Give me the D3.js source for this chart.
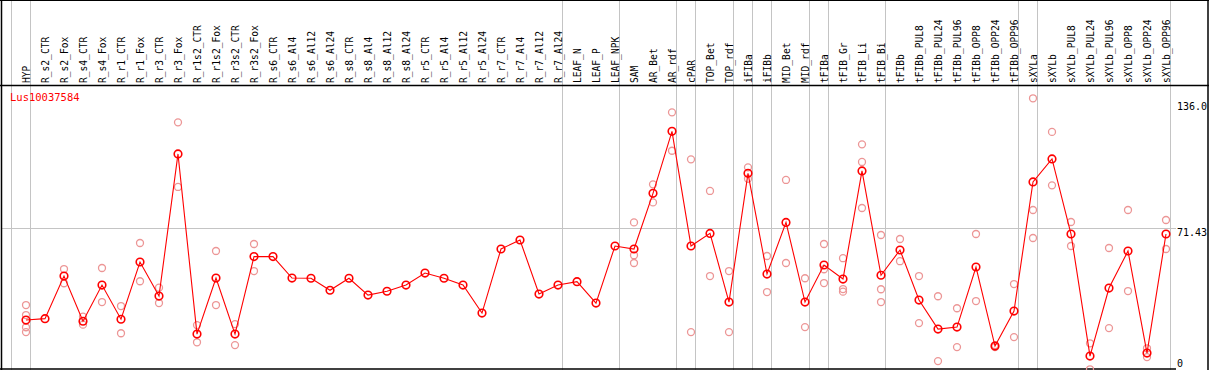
<!DOCTYPE html>
<html>
<head>
    <title>Lus10037584</title>
    <style>
        html, body {
            margin: 0;
            padding: 0;
            background: #fff;
        }
        #chart text {
            font-family: "DejaVu Sans Mono", monospace;
            font-size: 9.6px;
        }
    </style>
    <script src="https://d3js.org/d3.v7.min.js"></script>
</head>
<body>
    <svg id="chart"></svg>
</body>
<script>
const columns = ["HYP", "R_s2_CTR", "R_s2_Fox", "R_s4_CTR", "R_s4_Fox", "R_r1_CTR", "R_r1_Fox",
    "R_r3_CTR", "R_r3_Fox", "R_r1s2_CTR", "R_r1s2_Fox", "R_r3s2_CTR", "R_r3s2_Fox",
    "R_s6_CTR", "R_s6_Al4", "R_s6_Al12", "R_s6_Al24", "R_s8_CTR", "R_s8_Al4", "R_s8_Al12", "R_s8_Al24",
    "R_r5_CTR", "R_r5_Al4", "R_r5_Al12", "R_r5_Al24", "R_r7_CTR", "R_r7_Al4", "R_r7_Al12", "R_r7_Al24",
    "LEAF_N", "LEAF_P", "LEAF_NPK", "SAM", "AR_Bet", "AR_rdf", "cPAR", "TOP_Bet", "TOP_rdf",
    "iFIBa", "iFIBb", "MID_Bet", "MID_rdf", "tFIBa", "tFIB_Gr", "tFIB_Li", "tFIB_Bi", "tFIBb",
    "tFIBb_PUL8", "tFIBb_PUL24", "tFIBb_PUL96", "tFIBb_OPP8", "tFIBb_OPP24", "tFIBb_OPP96",
    "sXYLa", "sXYLb", "sXYLb_PUL8", "sXYLb_PUL24", "sXYLb_PUL96", "sXYLb_OPP8", "sXYLb_OPP24", "sXYLb_OPP96"];

const meanValues = [25.2, 25.9, 47.2, 24.6, 42.7, 25.6, 54.2,
    37.2, 108.2, 18.2, 46.2, 18.2, 56.9,
    56.9, 46.2, 46.1, 40.1, 46.1, 37.7, 39.6, 42.7,
    48.7, 46.1, 42.7, 28.7, 60.7, 65.2, 38.2, 42.7,
    44.4, 33.7, 62.2, 60.7, 88.5, 119.5, 62.2, 68.5, 34.2,
    98.5, 48.2, 74.0, 34.2, 52.7, 45.7, 99.7, 47.6, 60.2,
    35.2, 20.7, 21.7, 51.7, 12.2, 29.7,
    94.2, 105.7, 68.2, 7.2, 41.2, 59.7, 8.7, 68.2];

const replicates = [
    [32.7, 27.7, 21.6, 19.2], [], [50.7, 43.6], [26.9, 22.9], [51.2, 34.2], [32.2, 18.6], [63.7, 44.6],
    [41.4, 33.7], [124.0, 91.7], [22.7, 14.1], [59.7, 32.7], [23.2, 12.7], [63.2, 49.7],
    [], [], [], [], [], [], [], [],
    [], [], [], [], [], [], [], [],
    [], [], [], [74.0, 57.6, 53.7], [93.0, 84.0], [129.0, 109.8], [105.5, 19.2], [89.7, 47.2], [49.7, 19.2],
    [101.5, 95.8], [57.2, 39.2], [95.2, 53.7], [46.1, 21.7], [63.2, 50.6, 43.7], [56.1, 40.7, 39.4],
    [113.0, 104.2, 81.2], [67.7, 40.6, 34.2], [65.7, 54.6],
    [47.2, 23.7], [37.1, 4.7], [31.1, 11.7], [68.2, 34.7], [12.7, 11.7], [43.2, 16.7],
    [136.0, 80.2, 66.2], [119.2, 92.5], [74.2, 62.2], [13.6, 0.6], [61.2, 21.2], [80.2, 39.7], [11.1, 6.7], [75.2, 60.7]];

// columns after which a grey separator is drawn (-1 = before the first)
const groupBreaks = [-1, 0, 28, 31, 34, 35, 37, 38, 39, 41, 42, 45, 52, 53, 60];

const yTicks = [0, 71.43, 136.0];
const yTickLabels = ["0", "71.43", "136.0"];
const geneName = "Lus10037584";

const width = 1209, height = 370;
const headerBottom = 85;
const plotRight = 1176;

const svg = d3.select("#chart")
    .attr("width", width)
    .attr("height", height);

const x = d3.scalePoint()
    .domain(columns)
    .range([26, 1166]);

const y = d3.scaleLinear()
    .domain([0, 136.0])
    .range([370.5, 98.3]);

// grey separators
svg.selectAll(".sep")
    .data(groupBreaks)
    .enter().append("line")
    .attr("class", "sep")
    .attr("x1", d => (d < 0 ? x(columns[0]) - x.step() : x(columns[d])) + 4.5)
    .attr("x2", d => (d < 0 ? x(columns[0]) - x.step() : x(columns[d])) + 4.5)
    .attr("y1", 0)
    .attr("y2", height)
    .attr("stroke", "#c4c4c4")
    .attr("stroke-width", 1);

// mid grid line
svg.append("line")
    .attr("x1", 1).attr("x2", plotRight)
    .attr("y1", Math.round(y(yTicks[1])) + 0.5)
    .attr("y2", Math.round(y(yTicks[1])) + 0.5)
    .attr("stroke", "#c4c4c4");

// frame
svg.append("line").attr("x1", 0).attr("x2", width).attr("y1", 0.5).attr("y2", 0.5).attr("stroke", "#000");
svg.append("line").attr("x1", 0).attr("x2", width).attr("y1", headerBottom + 0.5).attr("y2", headerBottom + 0.5).attr("stroke", "#000").attr("stroke-width", 1.3);
svg.append("line").attr("x1", 1.5).attr("x2", 1.5).attr("y1", 0).attr("y2", height).attr("stroke", "#000").attr("stroke-width", 1.5);
svg.append("line").attr("x1", 0).attr("x2", plotRight).attr("y1", 369).attr("y2", 369).attr("stroke", "#000").attr("stroke-width", 1.5);
svg.append("line").attr("x1", 1208).attr("x2", 1208).attr("y1", 0).attr("y2", height).attr("stroke", "#000").attr("stroke-width", 1.5);

// column labels
svg.selectAll(".col-label")
    .data(columns)
    .enter().append("text")
    .attr("class", "col-label")
    .attr("transform", d => "translate(" + (x(d) + 4) + "," + (headerBottom - 2) + ") rotate(-90)")
    .attr("fill", "#000")
    .text(d => d);

// gene name
svg.append("text")
    .attr("x", 10)
    .attr("y", 101)
    .attr("fill", "red")
    .style("font-size", "10.5px")
    .text(geneName);

// y value labels
const labelOffsets = [-4, 8, 12];
svg.selectAll(".y-label")
    .data(yTicks)
    .enter().append("text")
    .attr("class", "y-label")
    .attr("x", 1177)
    .attr("y", (d, i) => y(d) + labelOffsets[i])
    .attr("fill", "#000")
    .style("font-size", "10px")
    .text((d, i) => yTickLabels[i]);

// replicate points
const reps = [];
replicates.forEach((arr, i) => arr.forEach(v => reps.push({ col: columns[i], v: v })));
svg.selectAll(".rep")
    .data(reps)
    .enter().append("circle")
    .attr("class", "rep")
    .attr("cx", d => x(d.col))
    .attr("cy", d => y(d.v))
    .attr("r", 3.5)
    .attr("fill", "none")
    .attr("stroke", "rgb(236,150,150)")
    .attr("stroke-width", 1.3);

// mean line
const means = columns.map((c, i) => ({ col: c, v: meanValues[i] }));
const line = d3.line()
    .x(d => x(d.col))
    .y(d => y(d.v));
svg.append("path")
    .datum(means)
    .attr("d", line)
    .attr("fill", "none")
    .attr("stroke", "red")
    .attr("stroke-width", 1.1);

svg.selectAll(".dot")
    .data(means)
    .enter().append("circle")
    .attr("class", "dot")
    .attr("cx", d => x(d.col))
    .attr("cy", d => y(d.v))
    .attr("r", 3.8)
    .attr("fill", "none")
    .attr("stroke", "red")
    .attr("stroke-width", 1.6);
</script>
</html>
